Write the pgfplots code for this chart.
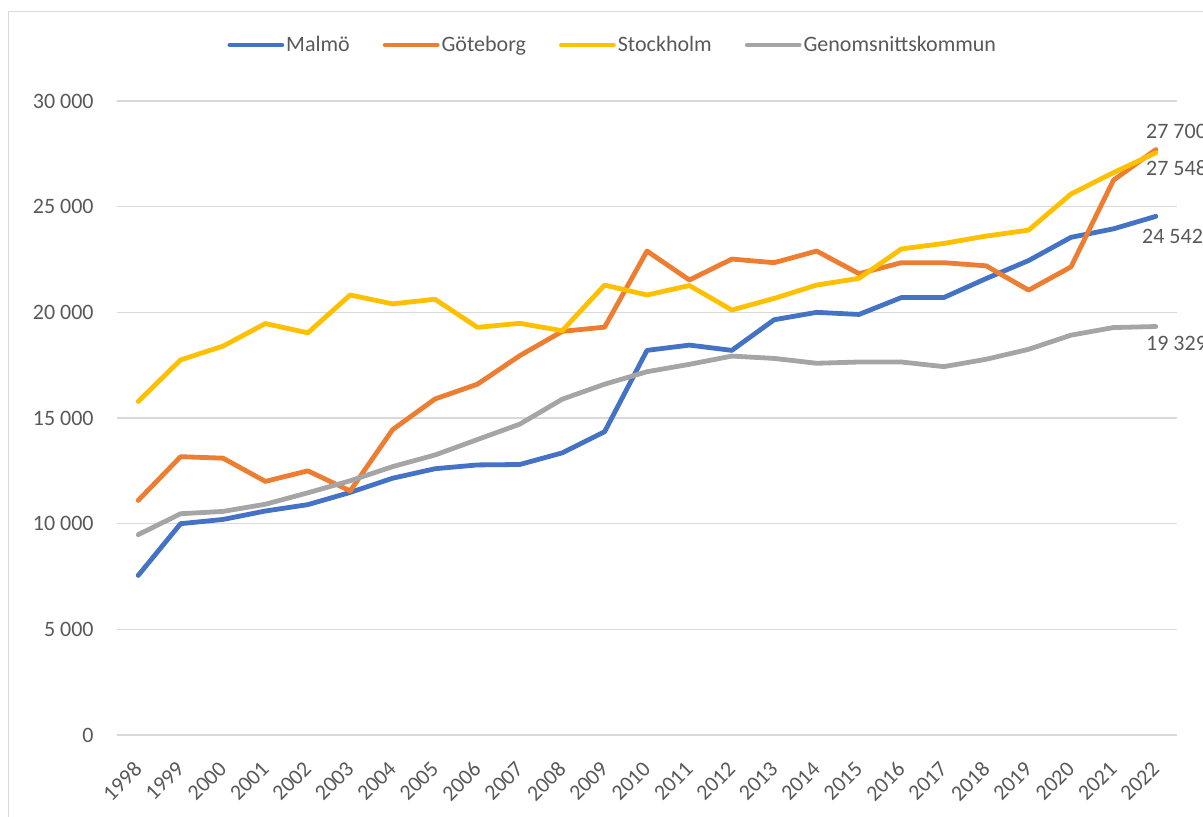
\documentclass[border=0pt]{standalone}
\usepackage{fontspec}
\setmainfont{Carlito}
\usepackage{pgfplots}
\usepackage{pgfplotstable}
\pgfplotsset{compat=1.18}
\definecolor{malmo}{HTML}{4472C4}
\definecolor{gbg}{HTML}{ED7D31}
\definecolor{sthlm}{HTML}{FFC000}
\definecolor{snitt}{HTML}{A5A5A5}
\definecolor{txt}{HTML}{595959}
\definecolor{gridc}{HTML}{D9D9D9}

% index 0 = 1998 ... 24 = 2022
\pgfplotstableread{
i  malmo  gbg    sthlm  snitt
0  7550   11100  15780  9480
1  10000  13170  17750  10470
2  10200  13100  18400  10580
3  10600  12000  19470  10920
4  10900  12500  19030  11460
5  11480  11550  20820  12030
6  12150  14450  20400  12700
7  12600  15900  20620  13250
8  12780  16600  19290  13980
9  12800  17950  19480  14710
10 13350  19100  19130  15890
11 14350  19300  21290  16600
12 18200  22900  20820  17190
13 18450  21530  21270  17540
14 18200  22520  20110  17930
15 19650  22350  20660  17820
16 20000  22900  21290  17590
17 19900  21830  21610  17650
18 20700  22350  23000  17650
19 20700  22350  23260  17430
20 21600  22200  23610  17780
21 22450  21050  23890  18250
22 23550  22150  25600  18920
23 23950  26250  26610  19280
24 24542  27700  27548  19329
}\data

\newcommand{\lbl}{\fontsize{11pt}{13pt}\selectfont}

\begin{document}
\begin{tikzpicture}
\draw[gridc, line width=0.75pt] (-54.25pt,-60pt) rectangle (560pt,361.65pt);
\begin{axis}[
  at={(0,0)}, anchor=south west,
  scale only axis, width=530pt, height=317pt,
  xmin=-0.5, xmax=24.5, ymin=0, ymax=30000,
  clip=false,
  scaled y ticks=false,
  axis line style={draw=none},
  tick style={draw=none},
  major tick length=0pt,
  ymajorgrids, grid style={gridc, line width=0.75pt},
  xtick={0,...,24},
  xticklabels={1998,1999,2000,2001,2002,2003,2004,2005,2006,2007,2008,2009,2010,2011,2012,2013,2014,2015,2016,2017,2018,2019,2020,2021,2022},
  ytick={0,5000,10000,15000,20000,25000,30000},
  yticklabels={0,5 000,10 000,15 000,20 000,25 000,30 000},
  tick label style={font=\lbl, text=txt},
  yticklabel style={inner sep=0pt, xshift=-11.5pt},
  xticklabel style={yshift=-15pt, rotate=45, anchor=east, inner sep=0pt},
  legend columns=4,
  legend style={at={(0.1038,1.0883)}, anchor=west, draw=none, fill=none,
    inner sep=0pt, font=\lbl, text=txt, nodes={inner sep=1pt},
    /tikz/every even column/.append style={column sep=15.5pt}},
  legend image code/.code={\draw[#1, line cap=round] (0pt,0pt) -- (26pt,0pt);},
  every axis plot/.append style={line width=2.4pt, line join=round, line cap=round},
]
\addplot[malmo] table[x=i, y=malmo] {\data};
\addplot[gbg] table[x=i, y=gbg] {\data};
\addplot[sthlm] table[x=i, y=sthlm] {\data};
\addplot[snitt] table[x=i, y=snitt] {\data};
\legend{Malmö, Göteborg, Stockholm, Genomsnittskommun}

\node[anchor=west, inner sep=0pt, font=\lbl, text=txt, xshift=-5pt, yshift=9pt] at (axis cs:24,27700) {27 700};
\node[anchor=west, inner sep=0pt, font=\lbl, text=txt, xshift=-5pt, yshift=-7.5pt] at (axis cs:24,27548) {27 548};
\node[anchor=west, inner sep=0pt, font=\lbl, text=txt, xshift=-7pt, yshift=-10pt] at (axis cs:24,24542) {24 542};
\node[anchor=west, inner sep=0pt, font=\lbl, text=txt, xshift=-5pt, yshift=-8.25pt] at (axis cs:24,19329) {19 329};
\end{axis}
\pgfresetboundingbox
\path[use as bounding box] (-58.5pt,-40.5pt) rectangle (543pt,367.5pt);
\end{tikzpicture}
\end{document}
